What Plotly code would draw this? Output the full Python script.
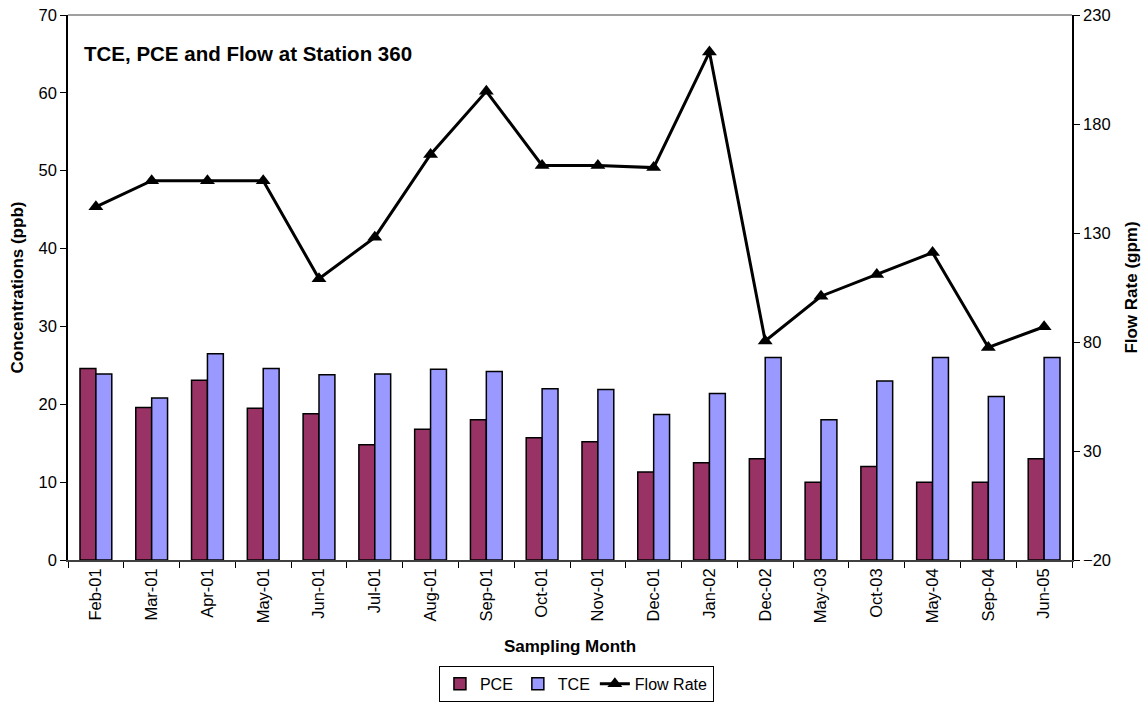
import plotly.graph_objects as go

months = ["Feb-01", "Mar-01", "Apr-01", "May-01", "Jun-01", "Jul-01", "Aug-01", "Sep-01",
          "Oct-01", "Nov-01", "Dec-01", "Jan-02", "Dec-02", "May-03", "Oct-03", "May-04",
          "Sep-04", "Jun-05"]
pce = [24.6, 19.6, 23.1, 19.5, 18.8, 14.8, 16.8, 18.0, 15.7, 15.2, 11.3, 12.5, 13.0,
       10.0, 12.0, 10.0, 10.0, 13.0]
tce = [23.9, 20.8, 26.5, 24.6, 23.8, 23.9, 24.5, 24.2, 22.0, 21.9, 18.7, 21.4, 26.0,
       18.0, 23.0, 26.0, 21.0, 26.0]
flow = [142, 154, 154, 154, 109, 128, 166, 195, 161, 161, 160, 213, 80.5, 101, 111, 121,
        77.5, 87]

FONT = "Liberation Sans, Arial, sans-serif"
TICK = 16.5
TITLE = 17

fig = go.Figure()
fig.add_trace(go.Bar(x=months, y=pce, name="PCE", marker=dict(color="#993366", line=dict(color="black", width=1.5))))
fig.add_trace(go.Bar(x=months, y=tce, name="TCE", marker=dict(color="#9999FF", line=dict(color="black", width=1.5))))
fig.add_trace(go.Scatter(x=months, y=flow, name="Flow Rate", yaxis="y2", mode="lines+markers",
                         line=dict(color="black", width=3),
                         marker=dict(symbol="triangle-up", size=13, color="black")))

fig.update_layout(
    width=1146, height=705,
    margin=dict(l=68, r=74, t=15, b=145, autoexpand=False),
    paper_bgcolor="white", plot_bgcolor="white",
    font=dict(family=FONT, size=TICK, color="black"),
    barmode="group", bargap=0.43, bargroupgap=0,
    showlegend=True,
    legend=dict(orientation="h", xref="container", yref="container", x=0.503, y=0.03,
                xanchor="center", yanchor="middle", bordercolor="black", borderwidth=1,
                font=dict(size=16), traceorder="normal", itemwidth=30,
                tracegroupgap=0),
    xaxis=dict(type="category", range=[-0.5, 17.5], tickangle=-90, showline=True,
               linecolor="#404040", linewidth=1.5,
               ticks="outside", ticklen=6, tickcolor="black", tickson="boundaries",
               title=dict(text="<b>Sampling Month</b>", font=dict(size=TITLE), standoff=18),
               showgrid=False, zeroline=False, tickfont=dict(size=TICK), automargin=False),
    yaxis=dict(range=[0, 70], dtick=10, showline=True, linecolor="black", linewidth=1.5,
               ticks="outside", ticklen=6, tickcolor="black", showgrid=False, zeroline=False,
               title=dict(text="<b>Concentrations (ppb)</b>", font=dict(size=TITLE), standoff=11),
               tickfont=dict(size=TICK), automargin=False),
    yaxis2=dict(range=[-20, 230], tick0=-20, dtick=50, overlaying="y", side="right", showline=True,
                linecolor="black", linewidth=1.5, ticks="outside", ticklen=6, tickcolor="black",
                showgrid=False, zeroline=False,
                title=dict(text="<b>Flow Rate (gpm)</b>", font=dict(size=TITLE), standoff=15),
                tickfont=dict(size=TICK), automargin=False),
    shapes=[dict(type="line", xref="paper", yref="paper", x0=0, x1=1, y0=1, y1=1,
                 line=dict(color="#808080", width=1.5))],
    annotations=[dict(text="<b>TCE, PCE and Flow at Station 360</b>", xref="paper", yref="paper",
                      x=0.014, y=0.929, xanchor="left", yanchor="middle", showarrow=False,
                      font=dict(size=20.5))],
)

fig.write_html("out.html")
